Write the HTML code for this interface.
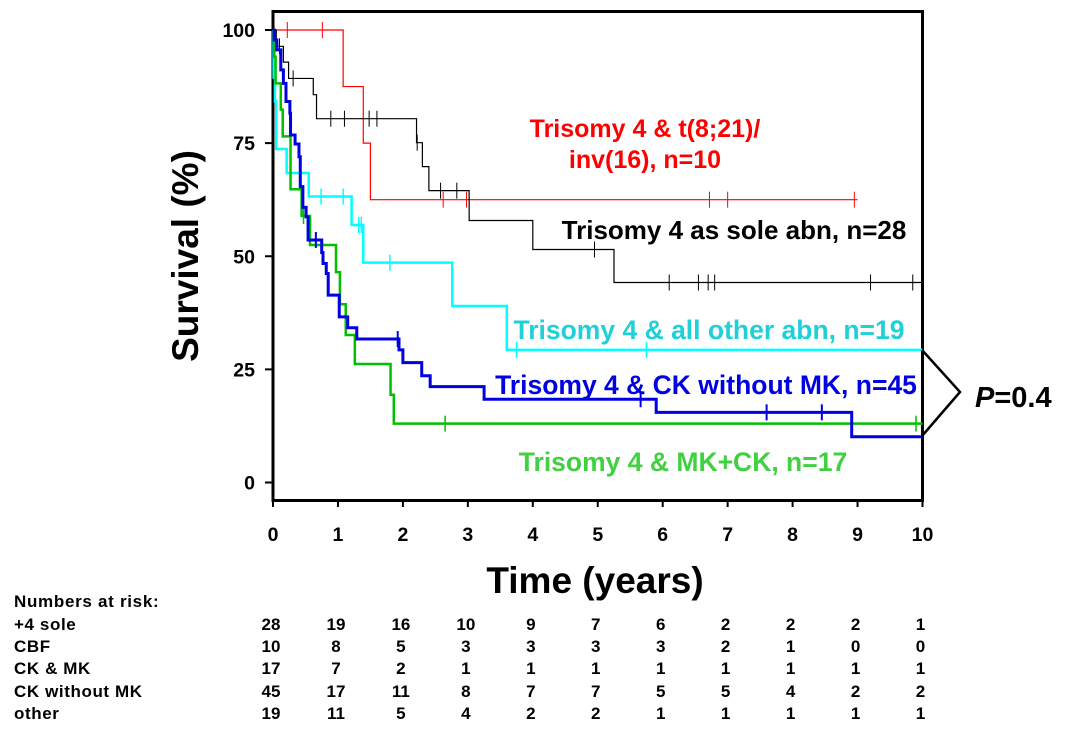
<!DOCTYPE html>
<html><head><meta charset="utf-8"><style>
body{margin:0;background:#fff;}
svg{display:block;font-family:"Liberation Sans",Arial,sans-serif;font-weight:bold;}
</style></head><body>
<svg id="chart" width="1067" height="738" viewBox="0 0 1067 738">
<g id="plot"></g>
</svg>
<script>
const xTicks=[0,1,2,3,4,5,6,7,8,9,10];
const yTicks=[0,25,50,75,100];
const redT=[0,1.08,1.39,1.5];
const redS=[100,87.5,75,62.5];
const redEnd=9.0;
const redC=[0.22,0.76,2.62,2.98,6.72,7.0,8.95];
const blackT=[0,0.05,0.16,0.24,0.62,0.67,2.21,2.3,2.4,3.02,4.0,5.25];
const blackS=[100,96.4,92.9,89.3,85.7,80.4,75.1,69.8,64.5,57.9,51.5,44.2];
const blackEnd=10;
const blackC=[0.1,0.31,0.89,1.1,1.48,1.6,2.22,2.58,2.83,4.95,6.1,6.55,6.7,6.8,9.2,9.85];
const cyanT=[0,0.01,0.03,0.05,0.21,0.55,1.21,1.39,2.76,3.6];
const cyanS=[100,89.5,84.2,73.7,68.4,63.2,56.9,48.6,39.0,29.3];
const cyanEnd=10;
const cyanC=[0.74,1.08,1.32,1.36,1.8,3.75,5.75];
const greenT=[0,0.02,0.04,0.12,0.15,0.27,0.44,0.57,0.97,1.03,1.12,1.26,1.81,1.86];
const greenS=[100,94.1,88.2,82.4,76.5,64.8,58.9,52.5,46.5,39.4,32.6,26.2,19.4,13.0];
const greenEnd=10;
const greenC=[0.47,2.65,9.9];
const blueT=[0,0.02,0.06,0.12,0.16,0.2,0.26,0.27,0.34,0.4,0.42,0.46,0.51,0.54,0.75,0.77,0.82,0.85,1.02,1.15,1.29,1.94,2.0,2.29,2.42,3.25,5.9,8.91];
const blueS=[100,97.8,95.6,91.2,88.2,84.2,81.6,76.8,74.8,72,65.4,60.8,58.7,53.6,50.8,48.4,46.2,41.4,36.6,34.2,31.7,29.3,26.5,23.6,21.2,18.4,15.5,10.1];
const blueEnd=10;
const blueC=[0.66,1.92,5.66,7.6,8.45];
const riskLabels=["+4 sole","CBF","CK & MK","CK without MK","other"];
const riskSole=[28,19,16,10,9,7,6,2,2,2,1];
const riskCBF=[10,8,5,3,3,3,3,2,1,0,0];
const riskCKMK=[17,7,2,1,1,1,1,1,1,1,1];
const riskCKnoMK=[45,17,11,8,7,7,5,5,4,2,2];
const riskOther=[19,11,5,4,2,2,1,1,1,1,1];

const X0=273,X1=922.5,Y100=30,Y0=482.5;
const xs=t=>X0+(X1-X0)*t/10;
const ys=s=>Y0+(Y100-Y0)*s/100;
const NS="http://www.w3.org/2000/svg";
const g=document.getElementById('plot');
function mk(tag,attrs,parent){const e=document.createElementNS(NS,tag);for(const k in attrs)e.setAttribute(k,attrs[k]);(parent||g).appendChild(e);return e;}
function txt(s,attrs,name){const e=mk('text',attrs);e.textContent=s;


return e;}

const fr=mk('rect',{x:X0,y:11.5,width:X1-X0,height:489,fill:'none',stroke:'#000','stroke-width':3});


yTicks.forEach(v=>{
 const l=mk('line',{x1:265,x2:X0,y1:ys(v),y2:ys(v),stroke:'#000','stroke-width':2});
 
 
 txt(String(v),{x:255,y:ys(v)+7,'text-anchor':'end','font-size':19.5},'y-tick-label');
});
xTicks.forEach(v=>{
 const l=mk('line',{x1:xs(v),x2:xs(v),y1:500,y2:507,stroke:'#000','stroke-width':2});
 
 
 txt(String(v),{x:xs(v),y:541,'text-anchor':'middle','font-size':19.5},'x-tick-label');
});
txt('Survival (%)',{x:0,y:0,transform:'translate(198,256) rotate(-90)','text-anchor':'middle','font-size':37},'y-axis-title');
txt('Time (years)',{x:595,y:593,'text-anchor':'middle','font-size':37},'x-axis-title');

function valAt(T,S,t){let v=S[0];for(let i=0;i<T.length;i++)if(T[i]<=t)v=S[i];return v;}
function curve(T,S,end,C,color,w,name){
 let d='M'+xs(T[0])+','+ys(S[0]);
 for(let i=1;i<T.length;i++){d+=' H'+xs(T[i])+' V'+ys(S[i]);}
 d+=' H'+xs(end);
 const p=mk('path',{d:d,fill:'none',stroke:color,'stroke-width':w});
 
 
 C.forEach(t=>{const y=ys(valAt(T,S,t));
  const c=mk('line',{x1:xs(t),x2:xs(t),y1:y-8,y2:y+8,stroke:color,'stroke-width':Math.max(1,w-1)});
  
  
 });
}
curve(redT,redS,redEnd,redC,'#ff0000',1.2,'cbf');
curve(blackT,blackS,blackEnd,blackC,'#000000',1.2,'sole');
curve(cyanT,cyanS,cyanEnd,cyanC,'#00ffff',2.5,'other');
curve(greenT,greenS,greenEnd,greenC,'#00c000',2.5,'ck-mk');
curve(blueT,blueS,blueEnd,blueC,'#0000e0',3,'ck-no-mk');

txt('Trisomy 4 & t(8;21)/',{x:645,y:137,'text-anchor':'middle','font-size':25,fill:'#ff0000'},'legend-cbf-line1');
txt('inv(16), n=10',{x:645,y:168,'text-anchor':'middle','font-size':25,fill:'#ff0000'},'legend-cbf-line2');
txt('Trisomy 4 as sole abn, n=28',{x:734,y:239,'text-anchor':'middle','font-size':26,fill:'#000'},'legend-sole');
txt('Trisomy 4 & all other abn, n=19',{x:709,y:339,'text-anchor':'middle','font-size':26.5,fill:'#20d0d8'},'legend-other');
txt('Trisomy 4 & CK without MK, n=45',{x:706,y:394,'text-anchor':'middle','font-size':26.5,fill:'#0000e0'},'legend-ck-no-mk');
txt('Trisomy 4 & MK+CK, n=17',{x:683,y:471,'text-anchor':'middle','font-size':26.5,fill:'#40d040'},'legend-ck-mk');

const br=mk('path',{d:'M922,350 L960,392 L922,436',fill:'none',stroke:'#000','stroke-width':2.5});


const pv=txt('',{x:975,y:407,'font-size':29},'p-value');
const ps=document.createElementNS(NS,'tspan');ps.setAttribute('font-style','italic');ps.textContent='P';pv.appendChild(ps);
pv.appendChild(document.createTextNode('=0.4'));

txt('Numbers at risk:',{x:14,y:607,'font-size':17,'letter-spacing':0.7},'risk-table-title');
const rows=[riskSole,riskCBF,riskCKMK,riskCKnoMK,riskOther];
const rowY=[630,652,674,697,719];
rows.forEach((r,i)=>{
 txt(riskLabels[i],{x:14,y:rowY[i],'font-size':17,'letter-spacing':0.6},'risk-row-label');
 r.forEach((v,k)=>txt(String(v),{x:xs(xTicks[k])-2,y:rowY[i],'text-anchor':'middle','font-size':17},'risk-count'));
});
</script>
</body></html>
